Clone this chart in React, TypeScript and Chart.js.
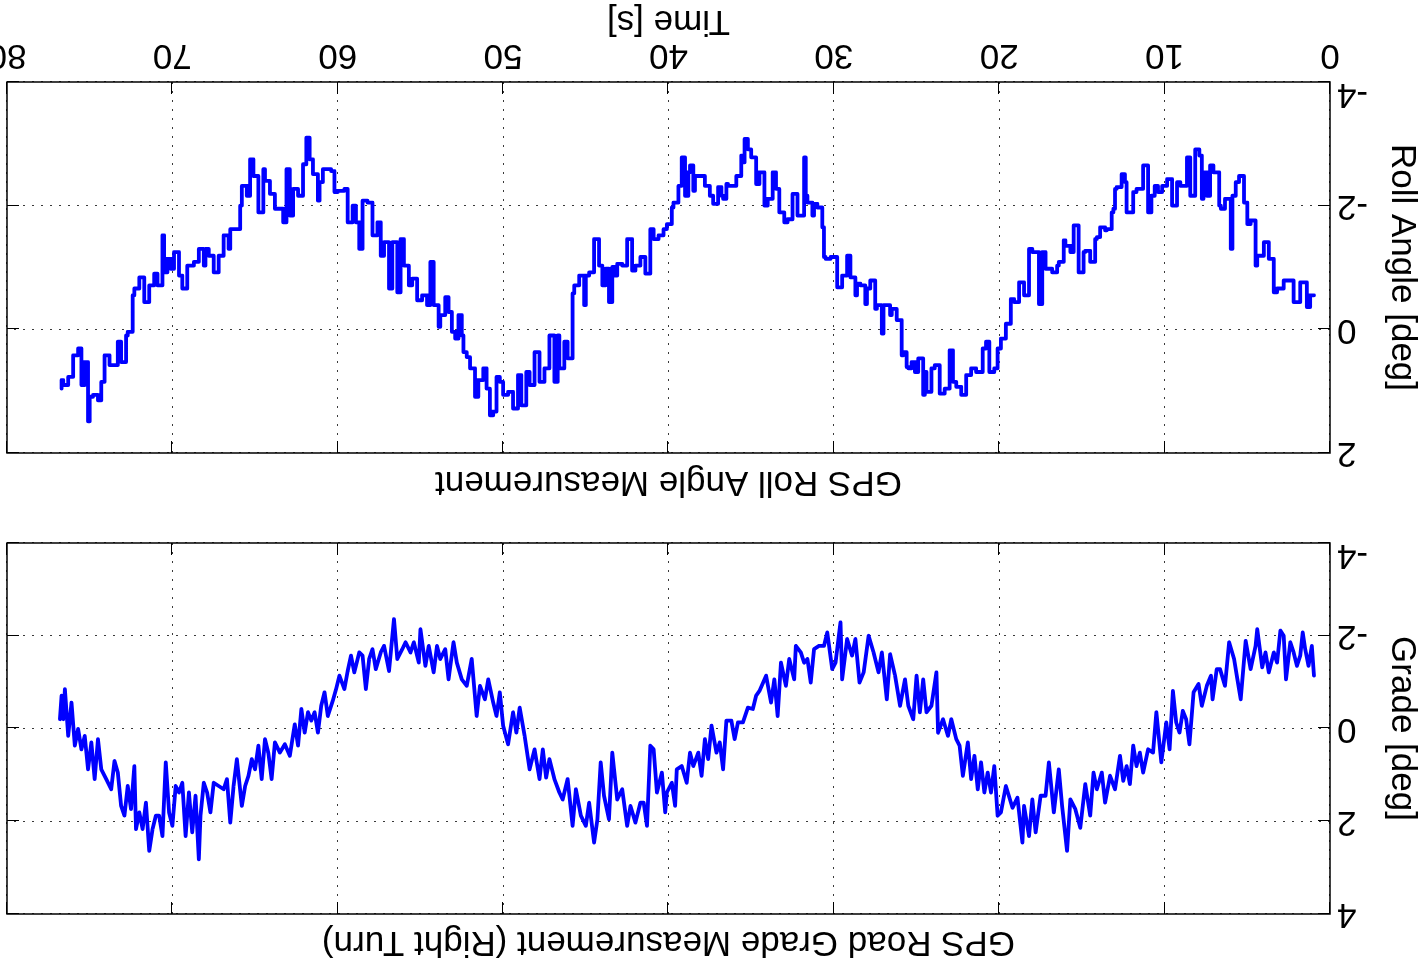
import React, { useEffect, useRef } from 'react';
import { Chart, registerables } from 'chart.js';

Chart.register(...registerables);

// ---------------- data ----------------
const timeTickStep = 10;
const timeMin = 0;
const timeMax = 80;

const rollTime = [
  0.97, 1.2, 1.4, 1.8, 2.2, 2.8, 3.2, 3.4, 3.7, 4.0, 4.4, 4.5, 4.8, 5.0, 5.2, 5.5, 5.7, 5.9, 6.0, 6.35,
  6.6, 6.7, 7.05, 7.25, 7.45, 7.65, 7.75, 7.9, 8.15, 8.45, 8.65, 9.05, 9.25, 9.55, 9.85, 10.15, 10.4, 10.6, 10.8, 11.0,
  11.3, 11.7, 11.9, 12.3, 12.4, 12.6, 12.9, 13.0, 13.1, 13.2, 13.5, 13.6, 13.9, 14.1, 14.2, 14.5, 14.8, 14.9, 15.2, 15.5,
  15.7, 16.0, 16.1, 16.4, 16.5, 16.8, 17.2, 17.4, 17.6, 18.0, 18.2, 18.5, 18.8, 19.1, 19.3, 19.6, 19.9, 20.1, 20.3, 20.6,
  20.8, 21.0, 21.4, 21.7, 22.0, 22.3, 22.6, 22.8, 23.0, 23.3, 23.6, 23.9, 24.1, 24.4, 24.5, 24.6, 24.9, 25.1, 25.3, 25.5,
  25.6, 25.8, 25.9, 26.2, 26.5, 26.6, 27.0, 27.1, 27.4, 27.5, 27.8, 28.0, 28.1, 28.4, 28.6, 28.7, 29.0, 29.2, 29.5, 29.8,
  30.2, 30.5, 30.6, 30.7, 31.0, 31.2, 31.3, 31.6, 31.7, 31.8, 32.2, 32.5, 32.8, 33.0, 33.3, 33.5, 33.7, 34.0, 34.2, 34.5,
  34.7, 35.0, 35.2, 35.4, 35.5, 35.6, 35.9, 36.2, 36.4, 36.5, 36.7, 36.8, 37.0, 37.3, 37.5, 37.8, 38.1, 38.4, 38.5, 38.7,
  38.8, 39.0, 39.2, 39.4, 39.7, 39.8, 40.1, 40.3, 40.6, 40.9, 41.1, 41.4, 41.7, 42.0, 42.2, 42.5, 42.8, 43.1, 43.3, 43.4,
  43.6, 43.8, 44.0, 44.2, 44.5, 44.8, 45.0, 45.1, 45.4, 45.7, 45.8, 46.1, 46.3, 46.6, 46.7, 46.9, 47.2, 47.5, 47.8, 48.1,
  48.4, 48.6, 48.9, 49.1, 49.4, 49.7, 50.0, 50.2, 50.4, 50.6, 50.8, 51.0, 51.2, 51.5, 51.7, 52.0, 52.2, 52.4, 52.5, 52.7,
  52.9, 53.1, 53.3, 53.5, 53.8, 53.9, 54.2, 54.4, 54.6, 54.9, 55.2, 55.5, 55.7, 56.0, 56.2, 56.4, 56.7, 56.9, 57.2, 57.4,
  57.6, 57.9, 58.2, 58.5, 58.7, 58.9, 59.1, 59.4, 59.6, 60.0, 60.2, 60.4, 60.6, 60.9, 61.1, 61.2, 61.5, 61.7, 61.9, 62.1,
  62.4, 62.7, 62.9, 63.1, 63.3, 63.5, 63.8, 64.1, 64.4, 64.5, 64.8, 65.1, 65.3, 65.5, 65.8, 65.9, 66.2, 66.5, 66.6, 66.9,
  67.2, 67.5, 67.8, 68.0, 68.1, 68.4, 68.7, 69.1, 69.4, 69.6, 69.9, 70.1, 70.3, 70.5, 70.6, 70.9, 71.1, 71.4, 71.7, 72.0,
  72.3, 72.4, 72.7, 72.8, 73.1, 73.3, 73.5, 73.8, 74.1, 74.3, 74.5, 74.8, 75.0, 75.1, 75.3, 75.5, 75.7, 76.0, 76.3, 76.6,
  76.7,
];

const rollDeg = [
  -0.55, -0.36, -0.76, -0.44, -0.79, -0.66, -0.60, -1.14, -1.41, -1.19, -1.03, -1.76, -1.70, -2.05, -2.48, -2.38, -2.16, -1.30, -2.11, -1.95,
  -2.00, -2.54, -2.65, -2.16, -2.54, -2.11, -2.81, -2.91, -2.16, -2.78, -2.32, -2.38, -2.00, -2.43, -2.32, -2.22, -2.32, -2.16, -1.89, -2.65,
  -2.27, -2.22, -1.89, -2.38, -2.51, -2.30, -2.27, -1.95, -1.89, -1.62, -1.60, -1.65, -1.49, -1.46, -1.09, -1.27, -1.25, -0.92, -1.68, -1.25,
  -1.35, -1.44, -1.09, -1.03, -0.92, -0.98, -1.25, -0.41, -1.25, -1.30, -0.55, -0.76, -0.44, -0.49, -0.09, 0.15, 0.31, 0.63, 0.69, 0.20,
  0.31, 0.69, 0.63, 0.74, 1.06, 0.93, 0.85, 0.34, 0.96, 1.04, 0.58, 0.63, 1.01, 0.69, 1.06, 0.47, 0.69, 0.53, 0.63, 0.61,
  0.37, 0.42, -0.15, -0.33, -0.23, -0.39, 0.07, -0.39, -0.33, -0.79, -0.66, -0.41, -0.71, -0.74, -0.55, -0.84, -1.19, -0.87, -0.68, -1.17,
  -1.14, -1.17, -1.65, -1.97, -2.03, -1.84, -2.05, -2.16, -2.78, -1.84, -2.19, -1.78, -1.73, -1.89, -2.27, -2.54, -2.11, -2.00, -2.54, -2.35,
  -2.78, -2.91, -3.08, -2.70, -2.81, -2.48, -2.32, -2.32, -2.35, -2.11, -2.16, -2.30, -2.03, -2.16, -2.32, -2.48, -2.48, -2.24, -2.65, -2.54,
  -2.16, -2.78, -2.32, -2.05, -1.97, -1.70, -1.62, -1.52, -1.46, -1.62, -0.90, -1.17, -1.03, -0.95, -1.46, -1.03, -1.06, -0.87, -1.01, -0.44,
  -0.98, -0.71, -1.03, -1.46, -0.92, -0.87, -0.39, -0.87, -0.71, -0.58, 0.47, 0.20, 0.63, 0.10, 0.85, 0.10, 0.63, 0.85, 0.37, 0.90,
  0.69, 1.23, 0.74, 1.28, 1.01, 1.06, 0.85, 0.77, 1.33, 1.39, 0.96, 0.63, 0.82, 1.09, 0.63, 0.45, 0.37, 0.10, -0.23, 0.15,
  0.04, -0.28, -0.52, -0.23, -0.04, -0.39, -1.09, -0.39, -0.55, -0.47, -0.82, -0.71, -1.03, -1.46, -0.60, -1.41, -0.66, -1.41, -1.19, -1.73,
  -1.52, -2.05, -2.08, -1.30, -1.73, -2.00, -1.73, -2.27, -2.24, -2.22, -2.56, -2.59, -2.59, -2.38, -2.08, -2.51, -2.75, -3.10, -2.67, -2.16,
  -2.27, -1.84, -2.59, -1.73, -1.95, -1.95, -2.19, -2.40, -2.59, -1.89, -2.48, -2.75, -2.16, -2.32, -2.00, -1.62, -1.62, -1.30, -1.52, -1.19,
  -0.92, -1.19, -1.30, -1.03, -1.30, -1.09, -1.03, -0.66, -0.87, -1.25, -0.98, -1.14, -0.92, -1.52, -0.71, -0.90, -0.71, -0.44, -0.84, -0.66,
  -0.55, 0.04, 0.10, 0.53, 0.20, 0.58, 0.58, 0.42, 0.85, 1.15, 1.06, 1.09, 1.49, 0.53, 0.90, 0.31, 0.42, 0.77, 0.90, 0.82,
  0.96,
];

const gradeTime = [
  0.97, 1.1, 1.3, 1.5, 1.65, 1.8, 2.0, 2.2, 2.4, 2.66, 2.8, 3.0, 3.2, 3.4, 3.7, 3.9, 4.1, 4.4, 4.5, 4.8,
  5.1, 5.4, 5.6, 5.8, 6.1, 6.35, 6.65, 6.85, 7.1, 7.2, 7.45, 7.75, 7.95, 8.25, 8.5, 8.7, 8.9, 9.1, 9.3, 9.5,
  9.7, 9.9, 10.2, 10.5, 10.7, 11.0, 11.3, 11.5, 11.7, 11.9, 12.1, 12.3, 12.5, 12.7, 13.0, 13.3, 13.6, 13.8, 14.1, 14.3,
  14.5, 14.8, 15.1, 15.4, 15.7, 15.9, 16.2, 16.4, 16.7, 17.0, 17.2, 17.5, 17.8, 18.0, 18.2, 18.5, 18.6, 18.9, 19.2, 19.6,
  19.9, 20.1, 20.3, 20.5, 20.7, 20.9, 21.1, 21.3, 21.5, 21.7, 21.9, 22.2, 22.4, 22.6, 22.9, 23.1, 23.4, 23.7, 23.8, 24.1,
  24.4, 24.6, 24.8, 25.0, 25.2, 25.5, 25.7, 26.0, 26.3, 26.6, 26.8, 27.1, 27.3, 27.6, 27.9, 28.2, 28.45, 28.7, 28.9, 29.2,
  29.5, 29.6, 29.9, 30.1, 30.4, 30.6, 30.9, 31.2, 31.4, 31.6, 31.8, 32.0, 32.3, 32.4, 32.7, 32.9, 33.2, 33.4, 33.6, 33.8,
  34.1, 34.5, 34.7, 34.9, 35.2, 35.5, 35.8, 36.0, 36.2, 36.5, 36.7, 36.9, 37.1, 37.4, 37.6, 37.8, 38.0, 38.2, 38.5, 38.7,
  38.9, 39.2, 39.5, 39.6, 39.8, 40.1, 40.2, 40.4, 40.7, 40.9, 41.1, 41.3, 41.5, 41.7, 42.0, 42.3, 42.5, 42.8, 43.1, 43.4,
  43.6, 43.9, 44.1, 44.3, 44.5, 44.8, 45.0, 45.3, 45.6, 45.8, 46.1, 46.4, 46.6, 46.9, 47.2, 47.4, 47.6, 47.8, 48.1, 48.4,
  48.7, 49.0, 49.2, 49.4, 49.7, 50.0, 50.2, 50.4, 50.6, 50.9, 51.1, 51.4, 51.6, 51.9, 52.2, 52.5, 52.8, 53.0, 53.3, 53.5,
  53.8, 54.0, 54.2, 54.5, 54.7, 55.0, 55.1, 55.4, 55.6, 55.9, 56.1, 56.4, 56.6, 56.9, 57.2, 57.4, 57.7, 57.9, 58.1, 58.3,
  58.5, 58.7, 59.0, 59.2, 59.4, 59.6, 59.9, 60.1, 60.3, 60.6, 60.8, 61.0, 61.2, 61.4, 61.6, 61.8, 62.0, 62.2, 62.4, 62.6,
  62.9, 63.2, 63.5, 63.8, 64.0, 64.2, 64.4, 64.6, 64.8, 65.0, 65.2, 65.4, 65.6, 65.8, 66.1, 66.3, 66.5, 66.7, 66.9, 67.2,
  67.5, 67.7, 67.9, 68.1, 68.3, 68.4, 68.6, 68.8, 69.0, 69.2, 69.4, 69.6, 69.8, 70.0, 70.2, 70.4, 70.6, 70.8, 71.0, 71.2,
  71.4, 71.6, 71.8, 72.0, 72.2, 72.3, 72.5, 72.7, 72.9, 73.1, 73.3, 73.5, 73.7, 74.0, 74.3, 74.5, 74.7, 74.9, 75.1, 75.3,
  75.5, 75.7, 75.9, 76.1, 76.3, 76.5, 76.6, 76.7, 76.8,
];

const gradeDeg = [
  -1.14, -1.78, -1.35, -1.71, -2.07, -1.57, -1.35, -1.64, -1.86, -1.06, -2.00, -2.11, -1.42, -1.64, -1.21, -1.64, -1.32, -2.14, -1.78, -1.28,
  -1.89, -0.63, -1.06, -1.50, -1.86, -0.92, -1.28, -1.28, -0.63, -1.14, -0.92, -0.49, -0.96, -0.78, 0.34, -0.20, -0.38, 0.09, -0.13, -0.81,
  0.45, -0.13, 0.73, -0.35, 0.52, 0.45, 0.95, 0.52, 0.81, 0.37, 1.20, 0.81, 1.13, 0.59, 1.31, 1.02, 1.60, 0.95, 1.31, 0.95,
  1.88, 1.20, 2.14, 1.74, 1.53, 2.64, 1.67, 0.88, 1.81, 0.73, 1.45, 1.45, 2.24, 1.53, 2.32, 1.67, 2.46, 1.49, 1.71, 1.24,
  1.81, 1.88, 0.81, 1.38, 0.95, 1.38, 0.73, 1.31, 0.59, 1.09, 0.30, 1.02, 0.37, 0.23, -0.20, 0.16, -0.20, 0.09, -1.21, -0.49,
  -0.35, -1.06, -0.35, -1.14, -0.20, -0.49, -1.06, -0.49, -1.14, -1.60, -0.63, -1.64, -1.21, -1.64, -2.00, -1.21, -0.99, -1.93, -1.57, -1.93,
  -1.06, -2.29, -1.42, -1.28, -2.07, -1.78, -1.78, -1.71, -0.99, -1.50, -1.42, -1.64, -1.78, -1.06, -1.50, -0.92, -1.42, -0.27, -1.06, -0.56,
  -1.14, -0.81, -0.71, -0.42, -0.45, -0.13, -0.13, 0.23, -0.17, -0.17, 0.88, 0.30, 0.52, -0.06, 0.66, 0.23, 1.02, 0.52, 0.81, 0.52,
  1.17, 0.81, 0.88, 1.67, 1.17, 1.38, 1.81, 0.95, 1.38, 0.45, 0.37, 2.10, 1.60, 1.60, 2.03, 1.67, 2.10, 1.31, 1.53, 0.52,
  1.96, 1.45, 0.73, 1.96, 2.46, 1.60, 2.10, 1.88, 1.31, 2.10, 1.09, 1.53, 1.38, 1.09, 0.66, 1.06, 0.45, 1.09, 0.45, 0.88,
  0.16, -0.45, 0.09, -0.35, 0.34, -0.06, -0.78, -0.27, -0.56, -1.06, -0.63, -0.92, -0.27, -1.50, -0.92, -1.06, -1.42, -1.86, -1.06, -1.71,
  -1.50, -1.78, -1.21, -1.78, -1.35, -2.14, -1.42, -1.86, -1.64, -1.86, -1.71, -1.50, -2.36, -1.24, -1.78, -1.64, -1.28, -1.71, -1.50, -0.85,
  -1.57, -1.64, -1.21, -1.57, -1.24, -0.85, -1.14, -0.85, -0.60, -0.27, -0.78, -0.49, 0.09, -0.35, -0.17, -0.35, 0.09, -0.42, 0.37, -0.09,
  0.59, 0.34, 0.52, 0.30, 1.09, 0.52, 0.23, 1.09, 0.37, 0.88, 0.66, 1.02, 1.24, 1.67, 0.66, 1.24, 2.03, 1.09, 1.31, 1.24,
  1.17, 1.81, 1.38, 1.17, 1.88, 2.82, 1.45, 2.24, 1.38, 2.32, 1.17, 1.38, 1.24, 2.10, 1.81, 0.73, 2.32, 1.88, 1.88, 2.17,
  2.64, 1.60, 2.17, 1.81, 2.17, 0.81, 1.74, 1.24, 1.88, 1.67, 0.95, 0.70, 1.31, 1.09, 0.88, 0.23, 1.09, 0.30, 0.88, 0.16,
  0.45, 0.01, 0.37, -0.56, 0.16, -0.85, -0.20, -0.71, -0.20,
];

const gradeTitle = 'GPS Road Grade Measurement (Right Turn)';
const gradeYLabel = 'Grade [deg]';
const gradeYRange = [-4, 4];
const rollTitle = 'GPS Roll Angle Measurement';
const rollYLabel = 'Roll Angle [deg]';
const rollYRange = [-4, 2];
const timeLabel = 'Time [s]';
const valueTickStep = 2;

// ---------------- styling ----------------
const FAMILY = "'Liberation Sans', Arial, Helvetica, sans-serif";
const FSIZE = 35;
const LINE_BLUE = '#0000ff';
const CANVAS_W = 1460;
const CANVAS_H = 967;

const matlabBox = {
  id: 'matlabBox',
  afterDatasetsDraw(chart: any) {
    const { ctx, chartArea: a, scales } = chart;
    const tl = 12;
    ctx.save();
    ctx.strokeStyle = '#000';
    ctx.lineWidth = 1;
    ctx.beginPath();
    scales.x.ticks.forEach((t: any) => {
      const px = Math.round(scales.x.getPixelForValue(t.value)) + 0.5;
      ctx.moveTo(px, a.bottom);
      ctx.lineTo(px, a.bottom - tl);
      ctx.moveTo(px, a.top);
      ctx.lineTo(px, a.top + tl);
    });
    scales.y.ticks.forEach((t: any) => {
      const py = Math.round(scales.y.getPixelForValue(t.value)) + 0.5;
      ctx.moveTo(a.left, py);
      ctx.lineTo(a.left + tl, py);
      ctx.moveTo(a.right, py);
      ctx.lineTo(a.right - tl, py);
    });
    ctx.stroke();
    ctx.lineWidth = 1.5;
    ctx.strokeRect(a.left, a.top, a.right - a.left, a.bottom - a.top);
    ctx.restore();
  },
};

function makeConfig(
  times: number[],
  values: number[],
  title: string,
  yLabel: string,
  yRange: number[],
  showX: boolean,
  stepped: boolean
): any {
  const font = { family: FAMILY, size: FSIZE, weight: 'normal' as const };
  const gridStyle = { color: '#3a3a3a', lineWidth: 1, drawTicks: false };
  const borderStyle = { display: false, dash: [2, 7] };
  const yMin = yRange[0];
  return {
    type: 'line',
    data: {
      datasets: [
        {
          data: times.map((t, i) => ({ x: t, y: values[i] })),
          borderColor: LINE_BLUE,
          borderWidth: 3.8,
          pointRadius: 0,
          tension: 0,
          stepped: stepped ? 'before' : false,
          borderJoinStyle: 'round',
          borderCapStyle: 'round',
        },
      ],
    },
    options: {
      animation: false,
      responsive: false,
      devicePixelRatio: 1,
      events: [],
      layout: showX
        ? { padding: { top: 460, left: 0, right: 42, bottom: 0 } }
        : { padding: { top: 0, left: 0, right: 42, bottom: 543 } },
      plugins: {
        legend: { display: false },
        tooltip: { enabled: false },
        title: {
          display: true,
          fullSize: false,
          text: title,
          color: '#000',
          font,
          padding: { top: 4, bottom: showX ? 8 : 7 },
        },
      },
      scales: {
        x: {
          type: 'linear',
          min: timeMin,
          max: timeMax,
          ticks: { display: showX, stepSize: timeTickStep, color: '#000', font, padding: 6, maxRotation: 0 },
          grid: gridStyle,
          border: borderStyle,
          title: {
            display: showX,
            text: timeLabel,
            color: '#000',
            font,
            padding: { top: 0, bottom: 0 },
          },
          afterFit(s: any) {
            s.height = showX ? 82 : 0;
          },
        },
        y: {
          type: 'linear',
          min: yRange[0],
          max: yRange[1],
          ticks: {
            stepSize: valueTickStep,
            color: '#000',
            padding: 7,
            font: (ctx: any) =>
              ctx.tick && ctx.tick.value === yMin
                ? { family: FAMILY, size: FSIZE, weight: 'normal', lineHeight: 0.69 }
                : font,
            callback: (v: number) => (v === yMin ? [String(v), ''] : String(v)),
          },
          grid: gridStyle,
          border: borderStyle,
          title: {
            display: true,
            text: yLabel,
            color: '#000',
            font,
            padding: { top: 2, bottom: 0 },
          },
          afterFit(s: any) {
            s.width = 95;
          },
        },
      },
    },
    plugins: [matlabBox],
  };
}

export default function App() {
  const gradeRef = useRef<HTMLCanvasElement | null>(null);
  const rollRef = useRef<HTMLCanvasElement | null>(null);

  useEffect(() => {
    const c1 = new Chart(
      gradeRef.current as HTMLCanvasElement,
      makeConfig(gradeTime, gradeDeg, gradeTitle, gradeYLabel, gradeYRange, false, false)
    );
    const c2 = new Chart(
      rollRef.current as HTMLCanvasElement,
      makeConfig(rollTime, rollDeg, rollTitle, rollYLabel, rollYRange, true, true)
    );
    return () => {
      c1.destroy();
      c2.destroy();
    };
  }, []);

  const canvasStyle: React.CSSProperties = {
    position: 'absolute',
    left: 0,
    top: 0,
    width: CANVAS_W,
    height: CANVAS_H,
  };

  return (
    <div
      style={{
        position: 'fixed',
        left: 0,
        top: 0,
        width: 1425,
        height: 967,
        overflow: 'hidden',
        background: '#fff',
        transform: 'rotate(180deg)',
        transformOrigin: '50% 50%',
      }}
    >
      <canvas ref={gradeRef} width={CANVAS_W} height={CANVAS_H} style={canvasStyle} />
      <canvas ref={rollRef} width={CANVAS_W} height={CANVAS_H} style={canvasStyle} />
    </div>
  );
}
